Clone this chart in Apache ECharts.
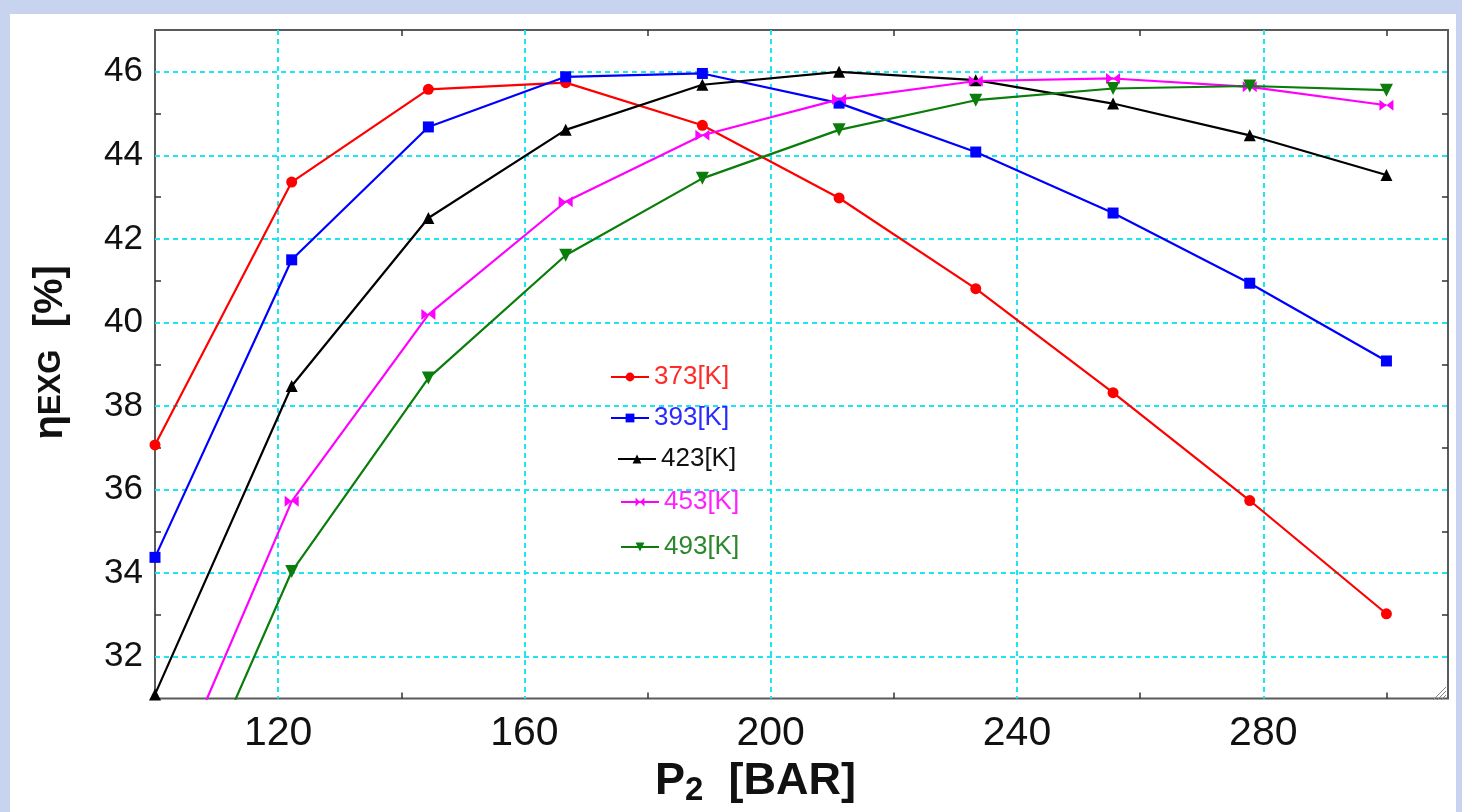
<!DOCTYPE html>
<html><head><meta charset="utf-8">
<script src="https://cdn.jsdelivr.net/npm/echarts@6/dist/echarts.min.js"></script>
<style>
html,body{margin:0;padding:0;width:1462px;height:812px;overflow:hidden;background:#c8d4ef;}
#paper{position:absolute;left:10px;top:14px;width:1446px;height:798px;background:#fff;}
#chart{position:absolute;left:0;top:0;width:1462px;height:812px;}
</style></head><body>
<div id="paper"></div><div id="chart"></div>
<script>
// ---- data ----
const pressure = [100, 122.2, 144.4, 166.7, 188.9, 211.1, 233.3, 255.6, 277.8, 300];
const eff373 = [37.07, 43.36, 45.58, 45.74, 44.72, 42.98, 40.81, 38.32, 35.74, 33.03];
const eff393 = [34.38, 41.5, 44.68, 45.88, 45.96, 45.25, 44.08, 42.62, 40.94, 39.08];
const eff423 = [31.1, 38.48, 42.5, 44.61, 45.69, 46.0, 45.8, 45.24, 44.48, 43.53];
const eff453 = [28.1, 35.72, 40.19, 42.89, 44.48, 45.34, 45.78, 45.84, 45.64, 45.2];
const eff493 = [26.6, 34.04, 38.67, 41.61, 43.45, 44.61, 45.32, 45.6, 45.66, 45.56];
const seriesNames = ['373[K]', '393[K]', '423[K]', '453[K]', '493[K]'];
const xTickLabels = [120, 160, 200, 240, 280];
const xMinorTicks = [140, 180, 220, 260, 300];
const yTickLabels = [32, 34, 36, 38, 40, 42, 44, 46];
const yMinorTicks = [33, 35, 37, 39, 41, 43, 45];
const xRange = [100, 310];
const yRange = [31, 47];

// ---- styles ----
const FONT = '"Liberation Sans", Arial, sans-serif';
const colors = ['#ff0000', '#0000ff', '#000000', '#ff00ff', '#0a7d0a'];
const legendColors = ['#ff2a2a', '#2a2aff', '#111111', '#ff22ff', '#2a882a'];
const symbols = ['circle', 'rect', 'triangle',
  'path://M0,0L10,5L0,10Z M20,0L10,5L20,10Z', 'triangle'];
const symbolSizes = [11, 11, 12, [14, 11], 13];
const symbolRotates = [0, 0, 0, 0, 180];
const legendPos = [[610, 377], [610, 418], [617, 459], [620, 502], [620, 547]];
const values = [eff373, eff393, eff423, eff453, eff493];

const GRID = {left: 155, right: 14, top: 30, bottom: 110};
const gridLine = {color: '#1ee6f0', type: [5, 4], width: 2};
const tickLine = {color: '#333', width: 1.5};

const chart = echarts.init(document.getElementById('chart'), null, {renderer: 'canvas'});

const series = seriesNames.map((n, i) => ({
  name: n,
  type: 'line',
  xAxisIndex: 0,
  yAxisIndex: 0,
  data: pressure.map((p, j) => [p, values[i][j]]),
  symbol: symbols[i],
  symbolSize: symbolSizes[i],
  symbolRotate: symbolRotates[i],
  showAllSymbol: true,
  clip: true,
  lineStyle: {color: colors[i], width: 2.2},
  itemStyle: {color: colors[i]},
  z: 3 + i
}));

const legends = seriesNames.map((n, i) => ({
  data: [n],
  left: legendPos[i][0],
  top: legendPos[i][1] - 13,
  padding: 0,
  itemWidth: 38,
  itemHeight: 11,
  selectedMode: false,
  textStyle: {color: legendColors[i], fontSize: 26, fontFamily: FONT}
}));

function tickAxis(pos, vals, range) {
  return {
    type: 'value', position: pos, min: range[0], max: range[1],
    axisLine: {show: false},
    axisLabel: {show: false},
    splitLine: {show: false},
    axisTick: {show: true, inside: true, length: 6, customValues: vals, lineStyle: tickLine}
  };
}

chart.setOption({
  animation: false,
  backgroundColor: 'transparent',
  grid: Object.assign({show: true, borderColor: '#5a5a5a', borderWidth: 2, backgroundColor: '#ffffff'}, GRID),
  legend: legends,
  xAxis: [
    {
      type: 'value', position: 'bottom', min: xRange[0], max: xRange[1],
      axisLine: {show: false},
      axisTick: {show: false, customValues: xTickLabels},
      axisLabel: {customValues: xTickLabels, fontSize: 41, color: '#111', margin: 15, fontFamily: FONT},
      splitLine: {show: true, customValues: xTickLabels, lineStyle: gridLine},
      name: '{p|P}{s|2}{t|  [BAR]}',
      nameLocation: 'middle',
      nameGap: 57,
      nameTextStyle: {
        padding: [0, 92, 0, 0],
        rich: {
          p: {fontSize: 45, fontWeight: 'bold', color: '#111', fontFamily: FONT, lineHeight: 50},
          s: {fontSize: 33, fontWeight: 'bold', color: '#111', fontFamily: FONT, lineHeight: 28, verticalAlign: 'bottom'},
          t: {fontSize: 45, fontWeight: 'bold', color: '#111', fontFamily: FONT, lineHeight: 50}
        }
      }
    },
    tickAxis('bottom', xMinorTicks, xRange),
    tickAxis('top', xMinorTicks, xRange)
  ],
  yAxis: [
    {
      type: 'value', position: 'left', min: yRange[0], max: yRange[1],
      axisLine: {show: false},
      axisTick: {show: false, customValues: yTickLabels},
      axisLabel: {customValues: yTickLabels, fontSize: 35, color: '#111', margin: 12, fontFamily: FONT},
      splitLine: {show: true, customValues: yTickLabels, lineStyle: gridLine},
      name: '{e|η}{s|EXG}{t|  [%]}',
      nameLocation: 'middle',
      nameRotate: 90,
      nameGap: 82,
      nameTextStyle: {
        padding: [0, 0, 0, 24],
        rich: {
          e: {fontSize: 40, fontWeight: 'bold', color: '#111', fontFamily: FONT, lineHeight: 44},
          s: {fontSize: 31, fontWeight: 'bold', color: '#111', fontFamily: FONT, lineHeight: 44},
          t: {fontSize: 40, fontWeight: 'bold', color: '#111', fontFamily: FONT, lineHeight: 44}
        }
      }
    },
    tickAxis('left', yMinorTicks, yRange),
    tickAxis('right', yMinorTicks, yRange)
  ],
  graphic: [
    {type: 'line', shape: {x1: 1446, y1: 687, x2: 1433, y2: 700}, style: {stroke: '#888', lineWidth: 1}, z: 10},
    {type: 'line', shape: {x1: 1446, y1: 691, x2: 1437, y2: 700}, style: {stroke: '#888', lineWidth: 1}, z: 10},
    {type: 'line', shape: {x1: 1446, y1: 695, x2: 1441, y2: 700}, style: {stroke: '#888', lineWidth: 1}, z: 10}
  ],
  series: series
});
</script>
</body></html>
